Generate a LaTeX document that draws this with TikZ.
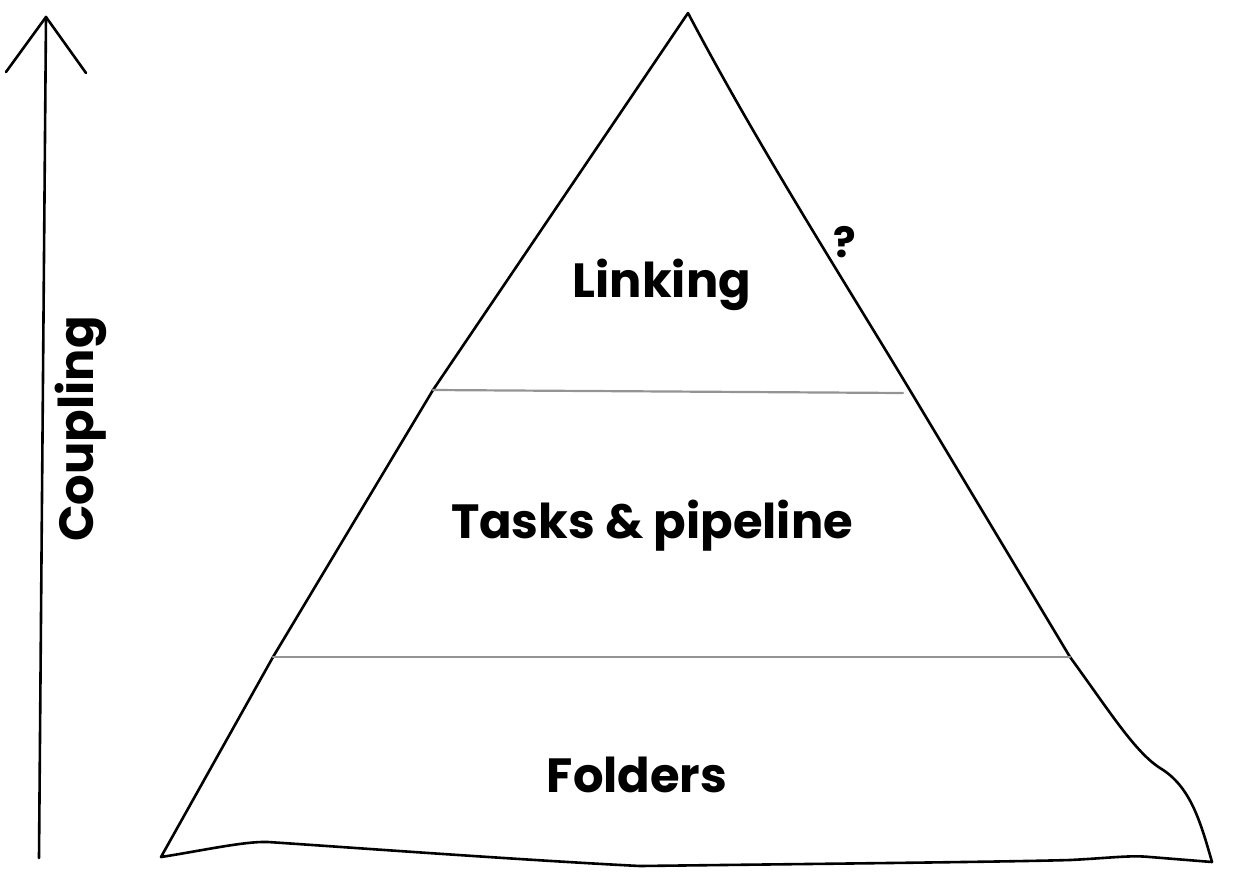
\documentclass[tikz,border=0pt]{standalone}
\usepackage{fontspec}
\setmainfont{Poppins}

\begin{document}
\begin{tikzpicture}[x=1pt,y=-1pt,line join=round,line cap=round,
    layer/.style={font=\fontsize{48}{56}\selectfont\bfseries,anchor=base,inner sep=0pt},
    edge/.style={line width=2.6pt,black},
    split/.style={line width=2.2pt,black!42}]
    \useasboundingbox (0,0) rectangle (1238,884);
    % coupling axis
    \coordinate (foot) at (39,858);
    \coordinate (tip) at (46,17);
    \coordinate (barbL) at (6,72);
    \coordinate (barbR) at (86,73);
    \draw[edge](foot)--(tip);
    \draw[edge](barbL)--(tip)--(barbR);
    \node[layer,rotate=90] (coupling) at (93,429) {Coupling};
    % pyramid outline
    \coordinate (apex) at (688,13);
    \coordinate (kinkL) at (433,390);
    \coordinate (midL) at (273,657);
    \coordinate (baseL) at (161,857);
    \coordinate (kinkR) at (920,407);
    \coordinate (midR) at (1070,657);
    \coordinate (baseR) at (1212,862);
    \draw[edge](apex)--(kinkL)--(midL)--(baseL)
        .. controls (200,851) and (245,841) .. (268,842)
        .. controls (330,846) and (520,860) .. (640,866)
        .. controls (800,864) and (1000,862) .. (1070,860)
        .. controls (1110,858) and (1130,855) .. (1150,857)
        -- (baseR)
        .. controls (1200,820) and (1190,786) .. (1160,768)
        .. controls (1135,752) and (1110,712) .. (midR)
        -- (kinkR)
        .. controls (850,290) and (760,150) .. (apex);
    % layer borders
    \coordinate (topEnd) at (903,393);
    \draw[split](kinkL)--(topEnd);
    \draw[split](midL)--(midR);
    \node[layer] (linking) at (662,297) {Linking};
    \node[layer] (tasks) at (652,538) {Tasks \& pipeline};
    \node[layer] (folders) at (637,792) {Folders};
    \node[layer,font=\fontsize{42}{48}\selectfont\bfseries] (unsure) at (845,257) {?};
\end{tikzpicture}
\end{document}
